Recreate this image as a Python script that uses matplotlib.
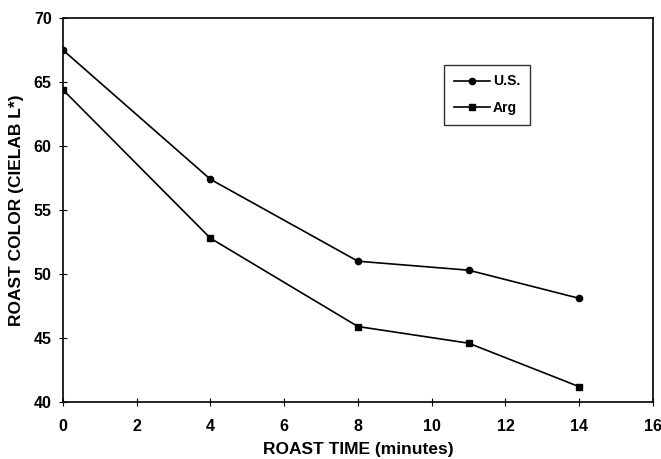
import matplotlib.pyplot as plt

plt.rcParams['font.family'] = ['Liberation Sans', 'DejaVu Sans']

# roast time (min) vs CIELAB L*
roast_time = [0, 4, 8, 11, 14]
us_color = [67.5, 57.4, 51.0, 50.3, 48.1]
arg_color = [64.4, 52.8, 45.9, 44.6, 41.2]

fig = plt.figure(figsize=(6.61, 4.59), dpi=100)
ax = fig.add_axes([0.095, 0.124, 0.893, 0.837])

ax.plot(roast_time, us_color, color='black', lw=1.2, marker='o', ms=4.5, label='U.S.')
ax.plot(roast_time, arg_color, color='black', lw=1.2, marker='s', ms=5, label='Arg')

ax.set_xlim(0, 16)
ax.set_ylim(40, 70)
ax.set_xticks(range(0, 17, 2))
ax.set_yticks(range(40, 71, 5))
ax.tick_params(direction='inout', length=6, width=0.8, labelsize=11.5)
ax.tick_params(axis='x', pad=9)
ax.tick_params(axis='y', pad=5)
for lab in ax.get_xticklabels() + ax.get_yticklabels():
    lab.set_fontweight('bold')
for sp in ax.spines.values():
    sp.set_linewidth(1.2)

ax.set_xlabel('ROAST TIME (minutes)', fontsize=12.5, fontweight='bold', labelpad=6)
ax.set_ylabel('ROAST COLOR (CIELAB L*)', fontsize=12.5, fontweight='bold', labelpad=7)

leg = ax.legend(loc='upper left', bbox_to_anchor=(0.646, 0.878), frameon=True, fancybox=False,
                edgecolor='black', handlelength=2.6, borderpad=0.7,
                labelspacing=0.9, handletextpad=0.2, borderaxespad=0,
                prop={'weight': 'bold', 'size': 10})
leg.get_frame().set_linewidth(1.0)

fig.savefig('out.png', dpi=100)
